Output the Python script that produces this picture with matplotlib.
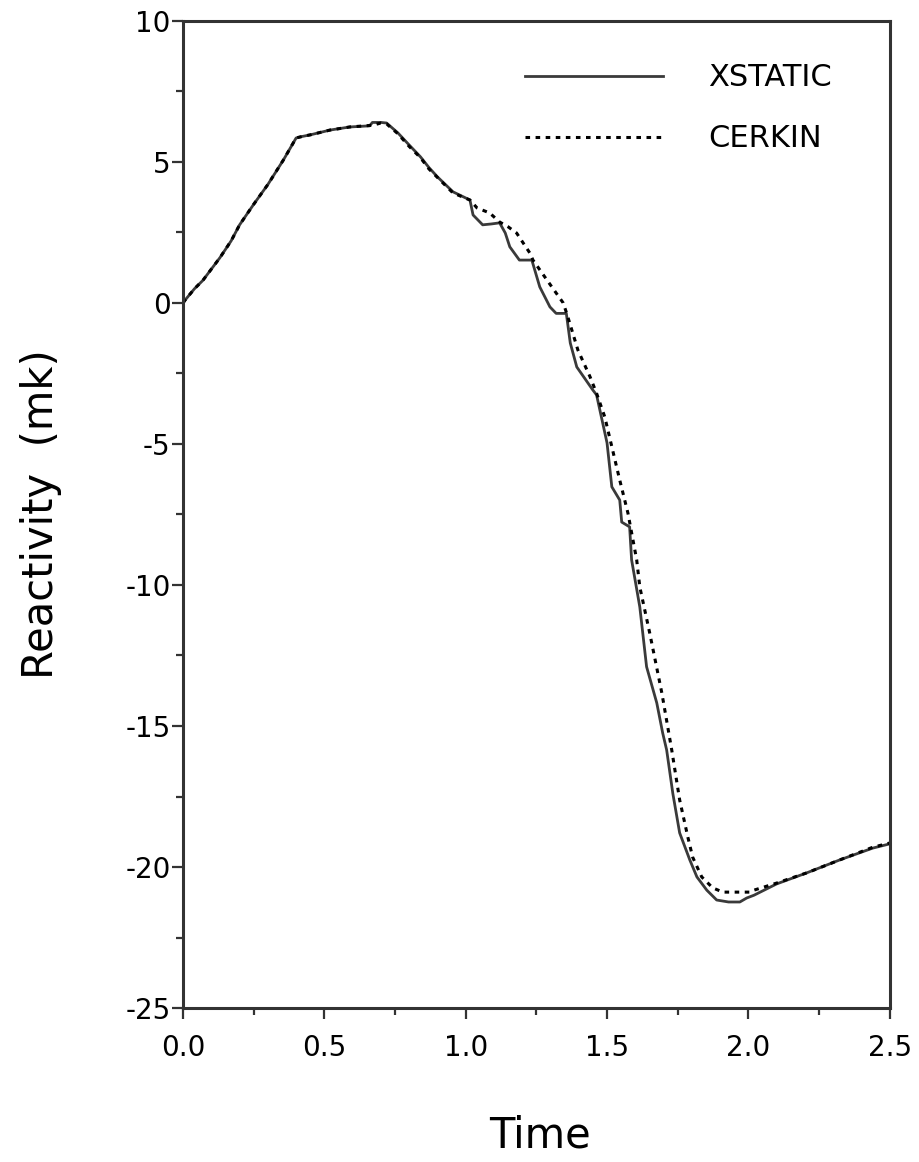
#!/usr/bin/env python3

import matplotlib
matplotlib.use("Agg")
import matplotlib.pyplot as plt
from matplotlib.ticker import MultipleLocator

plt.rcParams['font.family'] = ['DejaVu Sans']
plt.rcParams['axes.unicode_minus'] = False

# XSTATIC (solid)
t_xstatic = [0.0, 0.007, 0.04, 0.07, 0.10, 0.13, 0.17, 0.20, 0.25, 0.30, 0.355, 0.40,
             0.42, 0.45, 0.52, 0.59, 0.66, 0.67, 0.70, 0.72, 0.76, 0.80, 0.84, 0.87,
             0.90, 0.955, 1.015, 1.026, 1.06, 1.09, 1.12, 1.14, 1.156, 1.19, 1.234,
             1.262, 1.298, 1.32, 1.356, 1.37, 1.393, 1.45, 1.463, 1.50, 1.517, 1.545,
             1.552, 1.58, 1.587, 1.616, 1.64, 1.676, 1.697, 1.711, 1.733, 1.757, 1.793,
             1.818, 1.853, 1.888, 1.93, 1.97, 1.994, 2.02, 2.10, 2.206, 2.323, 2.44, 2.5]
r_xstatic = [0.0, 0.1, 0.5, 0.8, 1.2, 1.6, 2.2, 2.77, 3.5, 4.2, 5.07, 5.85,
             5.9, 5.96, 6.13, 6.24, 6.28, 6.4, 6.4, 6.38, 6.03, 5.6, 5.18, 4.8,
             4.47, 3.94, 3.65, 3.12, 2.77, 2.8, 2.84, 2.48, 1.99, 1.52, 1.52,
             0.57, -0.14, -0.37, -0.37, -1.42, -2.27, -3.09, -3.26, -4.96, -6.52, -6.99,
             -7.77, -7.94, -9.11, -10.78, -12.9, -14.18, -15.25, -15.85, -17.4, -18.79, -19.75,
             -20.35, -20.82, -21.17, -21.24, -21.24, -21.1, -21.0, -20.6, -20.21, -19.75, -19.33, -19.18]

# CERKIN (dotted)
t_cerkin = [0.0, 0.007, 0.04, 0.07, 0.10, 0.13, 0.17, 0.20, 0.25, 0.30, 0.355, 0.40,
            0.42, 0.45, 0.52, 0.59, 0.67, 0.70, 0.72, 0.76, 0.80, 0.84, 0.87, 0.90,
            0.955, 1.015, 1.04, 1.085, 1.12, 1.15, 1.18, 1.227, 1.238, 1.287, 1.345,
            1.36, 1.397, 1.44, 1.463, 1.492, 1.545, 1.574, 1.605, 1.616, 1.651, 1.694,
            1.729, 1.757, 1.786, 1.803, 1.835, 1.874, 1.91, 2.005, 2.02, 2.10, 2.206,
            2.323, 2.44, 2.5]
r_cerkin = [0.0, 0.1, 0.5, 0.8, 1.2, 1.6, 2.2, 2.77, 3.5, 4.2, 5.07, 5.85,
            5.9, 5.96, 6.13, 6.24, 6.3, 6.38, 6.35, 6.0, 5.55, 5.15, 4.75, 4.45,
            3.9, 3.65, 3.37, 3.19, 2.87, 2.7, 2.48, 1.77, 1.52, 0.82, 0.0,
            -0.45, -1.67, -2.62, -3.2, -4.04, -6.28, -7.45, -9.11, -10.07, -11.7, -13.83,
            -15.85, -17.62, -18.94, -19.65, -20.35, -20.74, -20.89, -20.89, -20.82, -20.57, -20.21,
            -19.75, -19.3, -19.15]

fig = plt.figure(figsize=(9.2, 11.62), dpi=100)
ax = fig.add_axes([0.199, 0.1325, 0.768, 0.8495])

ax.plot(t_xstatic, r_xstatic, color='#3a3a3a', lw=2.0, label='XSTATIC')
ax.plot(t_cerkin, r_cerkin, color='black', lw=2.2, linestyle=(0, (1.5, 1.8)), label='CERKIN')

ax.set_xlim(0, 2.5)
ax.set_ylim(-25, 10)
ax.xaxis.set_major_locator(MultipleLocator(0.5))
ax.xaxis.set_minor_locator(MultipleLocator(0.25))
ax.yaxis.set_major_locator(MultipleLocator(5))
ax.yaxis.set_minor_locator(MultipleLocator(2.5))
ax.xaxis.set_major_formatter(plt.FormatStrFormatter('%.1f'))

for s in ax.spines.values():
    s.set_linewidth(2.2)
    s.set_color('#333333')

ax.tick_params(which='both', direction='out', top=False, right=False, color='#333333')
ax.tick_params(which='major', length=8, width=1.6, labelsize=20, pad=1)
ax.tick_params(axis='x', which='major', pad=11)
ax.tick_params(which='minor', length=5, width=1.6)

ax.set_ylabel('Reactivity  (mk)', fontsize=30)
ax.yaxis.set_label_coords(-0.172, 0.5)
ax.set_xlabel('Time', fontsize=30)
ax.xaxis.set_label_coords(0.505, -0.108)

ax.legend(loc='upper left', bbox_to_anchor=(0.484, 0.957), frameon=False,
          borderaxespad=0, borderpad=0,
          fontsize=22, handlelength=4.5, handletextpad=1.5, labelspacing=1.05)

plt.savefig('out.png', dpi=100)
